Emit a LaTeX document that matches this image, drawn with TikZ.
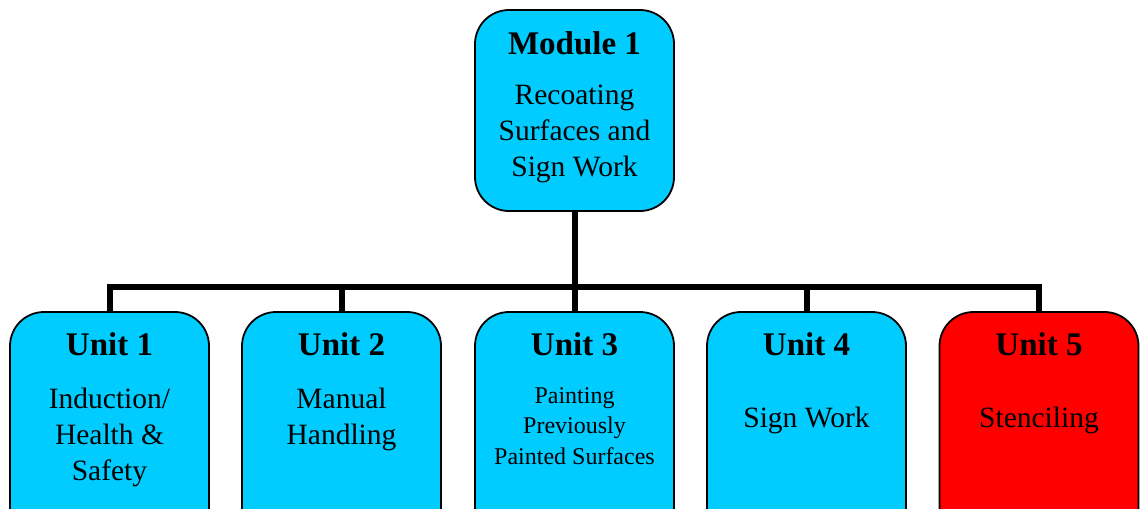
\documentclass[tikz,border=0pt]{standalone}
\usepackage{fontspec}
\setmainfont{Liberation Serif}
\definecolor{boxcyan}{HTML}{00CCFF}
\definecolor{boxred}{HTML}{FF0000}
\begin{document}
\begin{tikzpicture}[x=1pt,y=-1pt,
  box/.style={draw=black,line width=1.8pt,rounded corners=34pt,minimum width=199pt,inner sep=0pt,outer sep=0pt},
  unitbox/.style={box,minimum height=230pt,anchor=north},
  titletext/.style={anchor=base,inner sep=0pt,font=\fontsize{33}{36}\selectfont\bfseries},
  bodytext/.style={anchor=center,inner sep=0pt,align=center,font=\fontsize{29.5}{36}\selectfont},
  smalltext/.style={anchor=center,inner sep=0pt,align=center,font=\fontsize{24}{30.5}\selectfont},
  link/.style={line width=6pt,draw=black}]
\useasboundingbox (0,0) rectangle (1144,509);
\clip (0,0) rectangle (1144,509);
% module
\node[box,fill=boxcyan,minimum height=201pt] (m) at (574.5,110.5) {};
\node[titletext] (mt) at (574.5,54) {Module 1};
\node[bodytext] (mb) at (574.5,134) {Recoating\\Surfaces and\\Sign Work};
% units
\node[unitbox,fill=boxcyan] (u1) at (109.5,312) {};
\node[unitbox,fill=boxcyan] (u2) at (341.5,312) {};
\node[unitbox,fill=boxcyan] (u3) at (574.5,312) {};
\node[unitbox,fill=boxcyan] (u4) at (806.5,312) {};
\node[unitbox,fill=boxred] (u5) at (1039,312) {};
\node[titletext] (t1) at (109.5,355) {Unit 1};
\node[titletext] (t2) at (341.5,355) {Unit 2};
\node[titletext] (t3) at (574.5,355) {Unit 3};
\node[titletext] (t4) at (806.5,355) {Unit 4};
\node[titletext] (t5) at (1039,355) {Unit 5};
\node[bodytext] (b1) at (109.5,437) {Induction/\\Health \&\\Safety};
\node[bodytext] (b2) at (341.5,419) {Manual\\Handling};
\node[smalltext] (b3) at (574.5,426) {Painting\\Previously\\Painted Surfaces};
\node[bodytext] (b4) at (806.5,420) {Sign Work};
\node[bodytext] (b5) at (1039,420) {Stenciling};
% connectors
\coordinate (bus) at (574.5,287);
\draw[link] (m.south) -- (bus);
\draw[link] (u1.north) |- (bus) -| (u5.north);
\draw[link] (u2.north) -- (u2.north |- bus);
\draw[link] (u3.north) -- (u3.north |- bus);
\draw[link] (u4.north) -- (u4.north |- bus);
\end{tikzpicture}
\end{document}
